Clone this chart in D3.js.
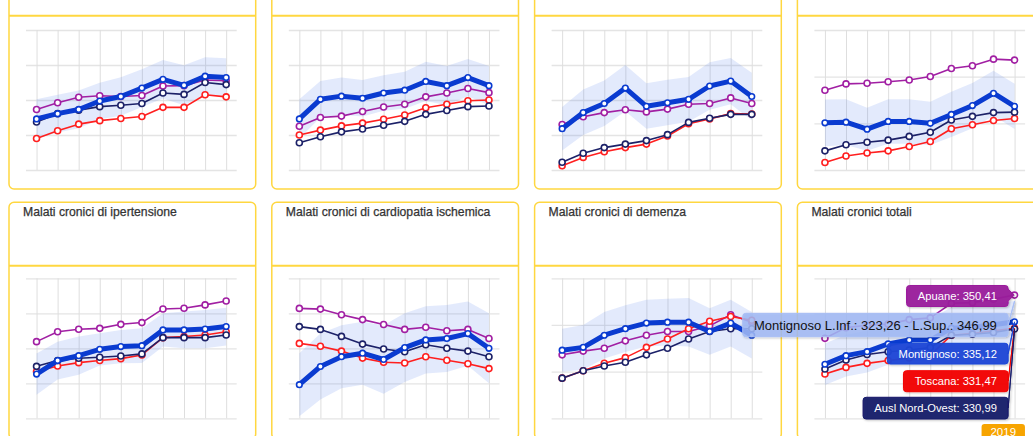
<!DOCTYPE html>
<html><head><meta charset="utf-8">
<script src="https://cdn.jsdelivr.net/npm/d3@7/dist/d3.min.js"></script>
<style>
html,body{margin:0;padding:0;background:#fff;overflow:hidden}
svg{display:block;font-family:"Liberation Sans",Arial,Helvetica,sans-serif}
</style></head><body>
<svg id="c" width="1033" height="436"></svg>
<script>
// ---------- DATA ----------
const years = [2010,2011,2012,2013,2014,2015,2016,2017,2018,2019];
const titles = ["", "", "", "",
  "Malati cronici di ipertensione",
  "Malati cronici di cardiopatia ischemica",
  "Malati cronici di demenza",
  "Malati cronici totali"];
const seriesNames = {mon:"Montignoso", apu:"Apuane", tos:"Toscana", ausl:"Ausl Nord-Ovest"};

// Panel 1 (top row)
const ticks1 = [40,50,60,70,80];
const apuane1 = [57.3,59.2,60.8,61.2,61.0,61.3,64.0,64.1,65.7,65.5];
const montignoso1 = [54.6,56.1,57.3,59.7,61.0,63.4,65.9,64.2,66.8,66.4];
const ausl1 = [53.7,56.1,57.1,58.1,58.5,59.0,62.0,61.6,65.0,64.4];
const toscana1 = [49.0,51.2,53.1,54.1,54.7,55.3,57.9,57.9,61.5,60.9];
const monLow1 = [49.0,50.7,51.9,54.5,55.5,58.0,60.4,58.5,61.4,60.9];
const monHigh1 = [60.2,61.5,62.7,64.9,66.5,68.8,71.4,69.9,72.2,71.9];

// Panel 2
const ticks2 = [20,30,40,50,60];
const apuane2 = [32.5,35.0,35.4,36.7,38.0,38.8,40.9,42.0,43.3,42.1];
const montignoso2 = [34.6,40.2,41.1,40.5,42.0,42.8,45.3,44.1,46.4,44.1];
const ausl2 = [27.8,29.5,30.9,31.7,32.8,33.9,35.9,37.0,38.1,38.3];
const toscana2 = [30.0,31.4,32.6,33.4,34.5,35.7,37.8,38.8,39.8,40.0];
const monLow2 = [29.0,35.0,35.8,35.3,36.9,37.5,39.7,38.5,41.1,38.5];
const monHigh2 = [40.2,45.4,46.4,45.7,47.1,48.1,50.9,49.7,51.7,49.7];

// Panel 3
const ticks3 = [0,5,10,15,20];
const apuane3 = [6.5,7.6,8.2,8.6,8.3,8.7,9.4,9.5,10.3,9.5];
const montignoso3 = [5.9,8.2,9.5,11.7,9.1,9.6,10.1,12.0,12.7,10.5];
const ausl3 = [1.1,2.4,3.2,3.7,4.2,5.05,6.8,7.4,7.95,7.95];
const toscana3 = [0.6,1.8,2.6,3.2,3.7,4.85,6.6,7.3,8.05,8.0];
const monLow3 = [2.8,5.0,6.3,8.4,5.9,6.4,6.9,8.6,9.4,7.1];
const monHigh3 = [9.0,11.5,12.8,15.0,12.4,12.9,13.3,15.4,16.0,13.9];

// Panel 4
const ticks4 = [20,40,60,80];
const apuane4 = [54.2,56.9,57.2,57.8,58.6,60.1,63.5,64.7,67.5,67.1];
const montignoso4 = [40.2,40.5,37.5,40.8,40.8,40.0,43.8,47.6,52.9,47.3];
const ausl4 = [28.2,30.8,31.9,32.8,34.4,36.2,41.4,43.0,44.6,44.8];
const toscana4 = [23.2,26.0,27.3,28.2,30.1,32.2,37.7,39.4,41.2,42.1];
const monLow4 = [30.2,30.7,28.3,31.3,31.3,30.7,34.1,37.9,43.3,37.6];
const monHigh4 = [50.2,50.3,46.7,50.3,50.3,49.3,53.5,57.3,62.5,57.0];

// Panel 5 - ipertensione
const ticks5 = [180,200,220,240,260];
const apuane5 = [223.8,229.5,230.9,231.4,233.7,234.7,242.5,242.9,244.8,247.0];
const montignoso5 = [205.3,213.0,215.8,219.4,221.0,221.5,230.5,230.5,231.0,232.4];
const ausl5 = [209.7,213.0,214.3,214.9,215.6,216.8,226.1,226.1,226.1,227.6];
const toscana5 = [206.7,209.9,211.8,213.0,214.1,216.2,226.1,226.7,227.6,229.5];
const monLow5 = [193.5,202.2,204.9,210.2,211.5,211.6,221.0,220.0,220.1,221.6];
const monHigh5 = [217.1,223.8,226.7,228.6,230.5,231.4,240.0,241.0,241.9,243.2];

// Panel 6 - cardiopatia ischemica
const ticks6 = [30,35,40,45,50];
const apuane6 = [45.7,45.6,44.8,44.1,43.4,42.7,43.0,42.5,42.7,41.4];
const montignoso6 = [34.8,37.4,38.8,39.3,38.4,40.1,41.2,41.4,42.1,40.0];
const ausl6 = [43.1,42.7,41.7,40.6,39.9,39.5,40.5,40.0,39.6,38.8];
const toscana6 = [40.7,40.3,39.6,38.6,38.0,37.9,38.8,38.3,37.8,37.1];
const monLow6 = [30.3,32.7,34.3,34.8,33.5,35.2,36.4,36.6,37.5,35.0];
const monHigh6 = [39.3,42.1,43.3,43.8,43.3,45.0,46.0,46.2,46.7,45.0];

// Panel 7 - demenza
const ticks7 = [5,10,15,20];
const apuane7 = [11.8,12.2,12.5,13.3,13.9,14.3,14.3,14.9,16.1,15.3];
const montignoso7 = [12.3,12.6,13.9,14.6,15.2,15.3,15.3,14.3,15.2,13.9];
const ausl7 = [9.3,10.1,10.6,11.0,11.8,12.5,13.5,14.3,14.6,14.6];
const toscana7 = [9.3,10.1,10.9,11.5,12.6,13.5,14.6,15.4,15.9,15.5];
const monLow7 = [10.0,10.2,11.4,12.1,12.7,12.8,12.7,11.8,12.7,11.4];
const monHigh7 = [14.6,15.0,16.4,17.1,17.7,17.8,17.9,16.8,17.7,16.4];

// Panel 8 - totali
const ticks8 = [280,300,320,340,360];
const apuane8 = [325.7,331.8,333.2,333.8,336.4,337.4,345.7,346.1,348.1,350.41];
const montignoso8 = [310.9,315.8,318.1,322.5,324.7,324.7,331.5,332.0,333.5,335.12];
const ausl8 = [308.2,313.3,316.5,318.0,319.0,320.5,327.5,328.0,329.0,330.99];
const toscana8 = [305.3,309.1,311.4,313.0,314.5,316.0,327.5,328.5,330.0,331.47];
const monLow8 = [299.0,303.9,306.2,310.6,312.8,312.8,319.6,320.1,321.6,323.26];
const monHigh8 = [322.8,327.7,330.0,334.4,336.6,336.6,343.4,343.9,345.4,346.99];

const panels = [
  {ticks:ticks1, apu:apuane1, mon:montignoso1, ausl:ausl1, tos:toscana1, lo:monLow1, hi:monHigh1},
  {ticks:ticks2, apu:apuane2, mon:montignoso2, ausl:ausl2, tos:toscana2, lo:monLow2, hi:monHigh2},
  {ticks:ticks3, apu:apuane3, mon:montignoso3, ausl:ausl3, tos:toscana3, lo:monLow3, hi:monHigh3},
  {ticks:ticks4, apu:apuane4, mon:montignoso4, ausl:ausl4, tos:toscana4, lo:monLow4, hi:monHigh4},
  {ticks:ticks5, apu:apuane5, mon:montignoso5, ausl:ausl5, tos:toscana5, lo:monLow5, hi:monHigh5},
  {ticks:ticks6, apu:apuane6, mon:montignoso6, ausl:ausl6, tos:toscana6, lo:monLow6, hi:monHigh6},
  {ticks:ticks7, apu:apuane7, mon:montignoso7, ausl:ausl7, tos:toscana7, lo:monLow7, hi:monHigh7},
  {ticks:ticks8, apu:apuane8, mon:montignoso8, ausl:ausl8, tos:toscana8, lo:monLow8, hi:monHigh8}
].map((p,i)=>Object.assign(p,{title:titles[i]}));

// ---------- STYLE ----------
const COL = {mon:"#0a3bd0", apu:"#a11fa3", tos:"#ff1f1f", ausl:"#1c2168"};
const TIP = {mon:"#1b46d6", apu:"#9a1a9c", tos:"#f20000", ausl:"#141a6a"};
const BORDER = "#ffd740";
const loc = d3.formatLocale({decimal:",", thousands:".", grouping:[3], currency:["€",""]});
const f2 = loc.format(".2f");

const svg = d3.select("#c");
const defs = svg.append("defs");
const sh = defs.append("filter").attr("id","sh").attr("x","-10%").attr("y","-20%").attr("width","130%").attr("height","160%");
sh.append("feDropShadow").attr("dx",1).attr("dy",1).attr("stdDeviation",1).attr("flood-color","#000").attr("flood-opacity",0.25);

const colW = 262.8, cardW = 246.7, cardH = 236.7;
const rows = [
  {top:-47.7, sep:15.7, plotTop:30, plotBot:170},
  {top:202.3, sep:265.7, plotTop:278.3, plotBot:418.3}
];

const scales = [];
panels.forEach((p,i)=>{
  const row = rows[Math.floor(i/4)], col = i%4;
  const cx = 9 + col*colW;
  const g = svg.append("g");
  g.append("rect").attr("x",cx).attr("y",row.top).attr("width",cardW).attr("height",cardH)
    .attr("rx",5).attr("fill","#fff").attr("stroke",BORDER).attr("stroke-width",1.5);
  g.append("line").attr("x1",cx).attr("x2",cx+cardW).attr("y1",row.sep).attr("y2",row.sep)
    .attr("stroke",BORDER).attr("stroke-width",2);
  if (p.title) {
    g.append("text").attr("x",cx+14).attr("y",row.top+13.3).text(p.title)
      .attr("font-size","12.2px").attr("fill","#333").attr("stroke","#333").attr("stroke-width",0.25);
  }
  const x0 = cx+17, x1 = cx+227.7;
  const x = d3.scalePoint().domain(years).range([x0,x1]).padding(0.5);
  const y = d3.scaleLinear().domain(d3.extent(p.ticks)).range([row.plotBot,row.plotTop]);
  scales.push({x,y});

  const gy = g.append("g").attr("transform",`translate(${x0},0)`)
    .call(d3.axisLeft(y).tickValues(p.ticks).tickSize(-(x1-x0)).tickFormat(""));
  gy.select(".domain").remove();
  gy.selectAll("line").attr("stroke","#e4e4e4").attr("stroke-width",1.3);
  const gx = g.append("g").attr("transform",`translate(0,${row.plotBot})`)
    .call(d3.axisBottom(x).tickSize(-(row.plotBot-row.plotTop)).tickFormat(""));
  gx.select(".domain").remove();
  gx.selectAll("line").attr("stroke","#dedede").attr("stroke-width",1);

  const area = d3.area().x((d,k)=>x(years[k])).y0((d,k)=>y(p.lo[k])).y1((d,k)=>y(p.hi[k]));
  g.append("path").attr("d",area(years)).attr("fill","rgba(70,115,235,0.15)");

  const line = d3.line().x((d,k)=>x(years[k])).y(d=>y(d));
  ["apu","tos","ausl","mon"].forEach(key=>{
    const vals = p[key];
    g.append("path").attr("d",line(vals)).attr("fill","none").attr("stroke",COL[key])
      .attr("stroke-width", key==="mon"?5:1.6).attr("stroke-linejoin","round");
    g.selectAll(null).data(vals).enter().append("circle")
      .attr("cx",(d,k)=>x(years[k])).attr("cy",d=>y(d)).attr("r",key==="mon"?2.8:3)
      .attr("fill","#fff").attr("stroke",COL[key]).attr("stroke-width",1.6);
  });
});

// ---------- TOOLTIPS (last panel, 2019) ----------
const P = panels[7], S = scales[7];
const last = years.length-1;
const ax = S.x(years[last]);
const boxRight = ax - 6.4;

function callout(x,y,w,h,r,axp,ayp){
  const half=6, arrow=6, safe=r+half;
  let d = `M${x+r},${y}L${x+w-r},${y}Q${x+w},${y} ${x+w},${y+r}`;
  if (ayp > y+safe && ayp < y+h-safe) {
    d += `L${x+w},${ayp-half}L${x+w+arrow},${ayp}L${x+w},${ayp+half}`;
  } else {
    d += `L${x+w},${y+h/2}L${axp},${ayp}L${x+w},${y+h/2}`;
  }
  d += `L${x+w},${y+h-r}Q${x+w},${y+h} ${x+w-r},${y+h}L${x+r},${y+h}Q${x},${y+h} ${x},${y+h-r}L${x},${y+r}Q${x},${y} ${x+r},${y}Z`;
  return d;
}

const tips = [
  {text:`${seriesNames.apu}: ${f2(P.apu[last])}`, y:285.5, h:21, fill:TIP.apu, stroke:TIP.apu, color:"#fff", fs:11.2, ay:S.y(P.apu[last]), op:0.95},
  {text:`${seriesNames.mon} L.Inf.: ${f2(P.lo[last])} - L.Sup.: ${f2(P.hi[last])}`, y:313.3, h:23.4, fill:"rgba(160,184,246,0.85)", stroke:"#a9bff5", color:"#111", fs:13, ay:S.y(P.hi[last]), op:1},
  {text:`${seriesNames.mon}: ${f2(P.mon[last])}`, y:343.3, h:20.7, fill:TIP.mon, stroke:TIP.mon, color:"#fff", fs:11.2, ay:S.y(P.mon[last]), op:0.95},
  {text:`${seriesNames.tos}: ${f2(P.tos[last])}`, y:370.7, h:21, fill:TIP.tos, stroke:TIP.tos, color:"#fff", fs:11.2, ay:S.y(P.tos[last]), op:0.95},
  {text:`${seriesNames.ausl}: ${f2(P.ausl[last])}`, y:397.3, h:21.7, fill:TIP.ausl, stroke:TIP.ausl, color:"#fff", fs:11.2, ay:S.y(P.ausl[last]), op:0.95}
];
const tg = svg.append("g");
tips.forEach(t=>{
  const g = tg.append("g");
  const path = g.append("path");
  const txt = g.append("text").text(t.text).attr("font-size",t.fs+"px").attr("fill",t.color)
    .attr("text-anchor","middle");
  const tw = txt.node().getComputedTextLength();
  const w = tw + 22.6, x = boxRight - w;
  path.attr("d",callout(x,t.y,w,t.h,3,ax,t.ay)).attr("fill",t.fill).attr("fill-opacity",t.op)
    .attr("stroke",t.stroke).attr("stroke-width",1).attr("filter","url(#sh)");
  txt.attr("x",x+w/2).attr("y",t.y+t.h/2+t.fs*0.36);
});

// x-axis crosshair label
const lg = svg.append("g");
const lx = ax - 11.3;
lg.append("rect").attr("x",lx-21.7).attr("y",424).attr("width",43.4).attr("height",22).attr("rx",3).attr("fill","#f7a400");
lg.append("text").attr("x",lx).attr("y",435.5).attr("text-anchor","middle").attr("font-size","11.5px").attr("fill","#fff").text(years[last]);
</script></body></html>
